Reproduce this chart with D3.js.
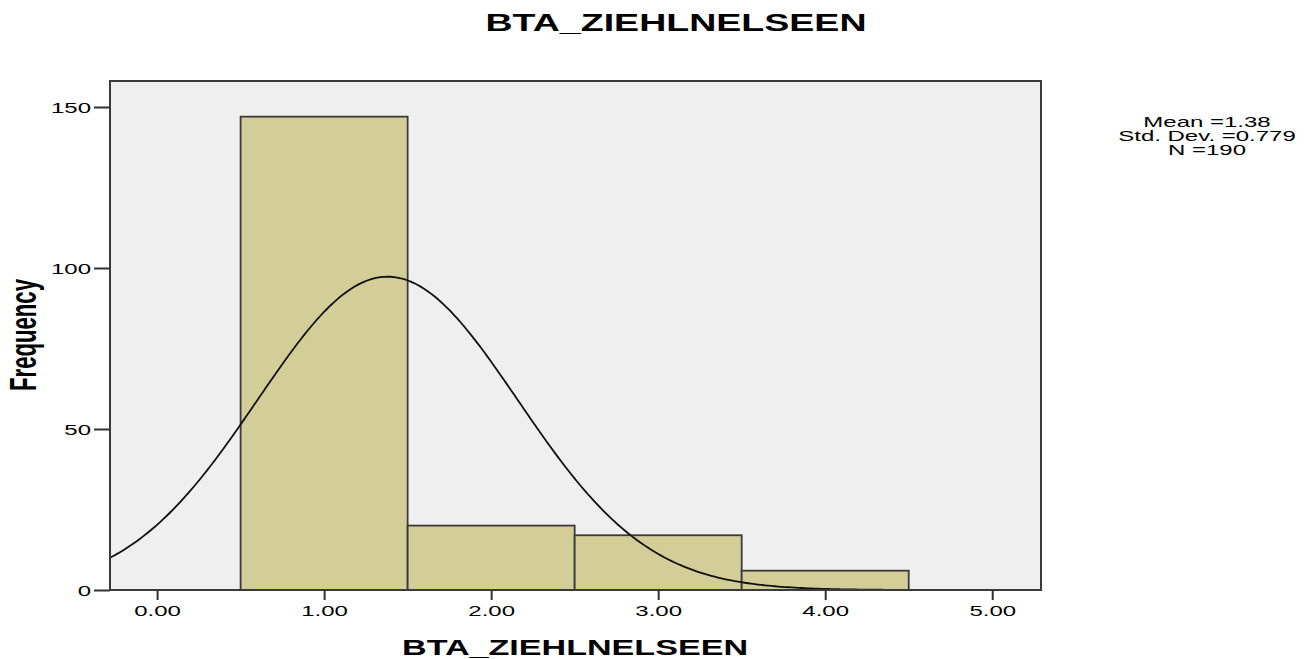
<!DOCTYPE html>
<html>
<head>
<meta charset="utf-8">
<script src="https://cdn.jsdelivr.net/npm/d3@7"></script>
<style>
  body { margin: 0; background: #fff; }
  text { font-family: Arial, "Liberation Sans", sans-serif; fill: #000; }
</style>
</head>
<body>
<script>
// histogram data
const binStart = [0.5, 1.5, 2.5, 3.5];
const binEnd   = [1.5, 2.5, 3.5, 4.5];
const counts   = [147, 20, 17, 6];
const xTicks = [0, 1, 2, 3, 4, 5];
const yTicks = [0, 50, 100, 150];
const statLines = ["Mean =1.38", "Std. Dev. =0.779", "N =190"];
const mean = 1.38, sd = 0.779, n = 190, binWidth = 1;
const varName = "BTA_ZIEHLNELSEEN";

// the picture is stretched sideways, so text is too
const sx = 1.6;

const svgSize = {width: 1314, height: 659};
const plot = {left: 110, top: 81, right: 1041, bottom: 590};

let svg = d3.select("body").append("svg")
    .attr("width", svgSize.width)
    .attr("height", svgSize.height);

let x = d3.scaleLinear().domain([-0.282, 5.292]).range([plot.left, plot.right]);
let y = d3.scaleLinear().domain([0, 150]).range([plot.bottom, plot.bottom - 150 * 3.22]);

function label(px, py, str, size, weight, anchor) {
  return svg.append("text")
    .attr("transform", `translate(${px},${py}) scale(${sx},1)`)
    .attr("text-anchor", anchor || "middle")
    .style("font-size", size + "px")
    .style("font-weight", weight || "normal")
    .text(str);
}

// plot background
svg.append("rect")
  .attr("x", plot.left).attr("y", plot.top)
  .attr("width", plot.right - plot.left).attr("height", plot.bottom - plot.top)
  .attr("fill", "#efefef");

// bars
svg.selectAll(".bar")
  .data(counts)
  .enter().append("rect")
  .attr("class", "bar")
  .attr("x", (d, i) => x(binStart[i]))
  .attr("width", (d, i) => x(binEnd[i]) - x(binStart[i]))
  .attr("y", d => y(d))
  .attr("height", d => y(0) - y(d))
  .attr("fill", "#d3ce98")
  .attr("stroke", "#3a3a3a")
  .attr("stroke-width", 1.8);

// fitted normal curve
svg.append("clipPath").attr("id", "clip")
  .append("rect")
  .attr("x", plot.left).attr("y", plot.top)
  .attr("width", plot.right - plot.left).attr("height", plot.bottom - plot.top);

const curvePts = d3.range(-0.282, 5.3, 0.02).map(v => [v,
  n * binWidth / (sd * Math.sqrt(2 * Math.PI)) * Math.exp(-0.5 * Math.pow((v - mean) / sd, 2))]);

svg.append("path")
  .datum(curvePts)
  .attr("clip-path", "url(#clip)")
  .attr("fill", "none")
  .attr("stroke", "#111")
  .attr("stroke-width", 1.8)
  .attr("d", d3.line().x(d => x(d[0])).y(d => y(d[1])));

// frame
svg.append("rect")
  .attr("x", plot.left).attr("y", plot.top)
  .attr("width", plot.right - plot.left).attr("height", plot.bottom - plot.top)
  .attr("fill", "none")
  .attr("stroke", "#3a3a3a")
  .attr("stroke-width", 2);

// x axis
let gx = svg.append("g")
  .attr("transform", `translate(0,${plot.bottom})`)
  .call(d3.axisBottom(x).tickValues(xTicks).tickSize(10).tickFormat(d3.format(".2f")));
gx.select(".domain").remove();
gx.selectAll(".tick line").attr("stroke", "#333").attr("stroke-width", 2);
gx.selectAll(".tick text")
  .attr("y", null).attr("dy", null)
  .attr("transform", `translate(0,26) scale(${sx},1)`)
  .style("font-size", "15px")
  .style("font-family", "Arial, 'Liberation Sans', sans-serif")
  .attr("fill", "#222");

// y axis
let gy = svg.append("g")
  .attr("transform", `translate(${plot.left},0)`)
  .call(d3.axisLeft(y).tickValues(yTicks).tickSize(16));
gy.select(".domain").remove();
gy.selectAll(".tick line").attr("stroke", "#333").attr("stroke-width", 2);
gy.selectAll(".tick text")
  .attr("x", null).attr("dy", null)
  .attr("transform", `translate(-19,5.5) scale(${sx},1)`)
  .style("font-size", "15px")
  .style("font-family", "Arial, 'Liberation Sans', sans-serif")
  .attr("fill", "#222");

// titles
label(676, 31, varName, 23, "bold").attr("textLength", 381 / sx).attr("lengthAdjust", "spacingAndGlyphs");
label(575, 655, varName, 22, "bold").attr("textLength", 346 / sx).attr("lengthAdjust", "spacingAndGlyphs");

svg.append("text")
  .attr("transform", `translate(36,335) scale(${sx},1) rotate(-90)`)
  .attr("text-anchor", "middle")
  .style("font-size", "23px")
  .style("font-weight", "bold")
  .attr("textLength", 112)
  .attr("lengthAdjust", "spacingAndGlyphs")
  .text("Frequency");

// stats box
statLines.forEach((s, i) => {
  label(1207, 127 + i * 14, s, 15, "normal");
});
</script>
</body>
</html>
